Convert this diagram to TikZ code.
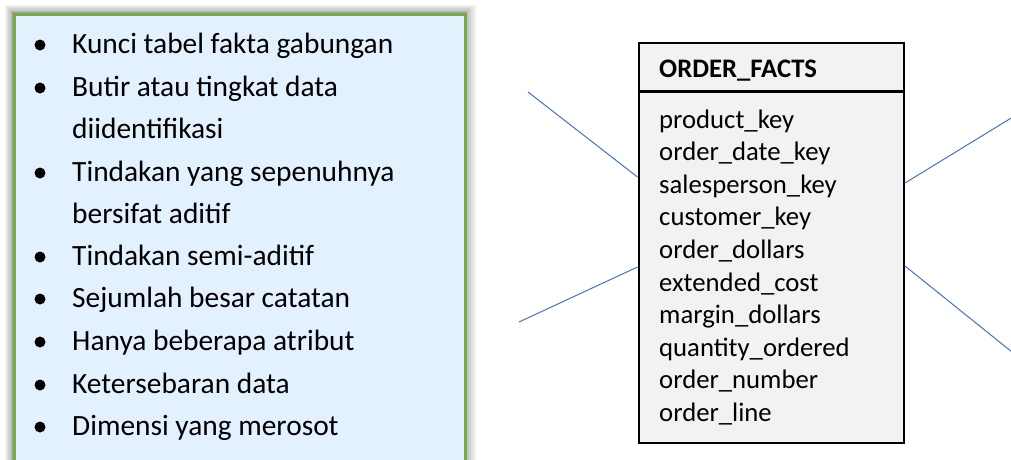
\documentclass[tikz,border=0pt]{standalone}
\usepackage{fontspec}
\setmainfont{Carlito}
\begin{document}
\begin{tikzpicture}[x=1pt,y=-1pt,
  itemtext/.style={anchor=base west,inner sep=0pt,font=\fontsize{29.4}{34}\selectfont},
  rowtext/.style={anchor=base west,inner sep=0pt,font=\fontsize{26.7}{31}\selectfont},
  bul/.style={circle,fill=black,inner sep=0pt,minimum size=11pt},
  link/.style={draw=linkblue,line width=1pt}]
\definecolor{boxfill}{HTML}{E3F1FE}
\definecolor{boxgreen}{HTML}{70AD47}
\definecolor{tablefill}{HTML}{F2F2F2}
\definecolor{linkblue}{HTML}{4472C4}
\useasboundingbox (0,0) rectangle (1011,459);
\clip (0,0) rectangle (1011,459);
% shadow of the left box
\foreach \d/\o in {13/0.035,11/0.04,9/0.05,7/0.06,5/0.07,3/0.08,1.5/0.1}{
  \fill[black,opacity=\o] (12.5-\d*0.6,12.5-\d*0.6) rectangle (464+\d,480);
}
\node[draw=boxgreen,line width=3pt,fill=boxfill,minimum width=451.5pt,minimum height=480pt,anchor=north west,inner sep=0pt] (leftbox) at (12.5,12.5) {};
% bullets
\foreach \i/\y in {1/45,2/88,3/173,4/257,5/299,6/342,7/385,8/427}{
  \node[bul] (b\i) at (40,\y) {};
}
\node[itemtext] (t1) at (72,53) {Kunci tabel fakta gabungan};
\node[itemtext] (t2) at (72,96) {Butir atau tingkat data};
\node[itemtext] (t2b) at (72,138) {diidentifikasi};
\node[itemtext] (t3) at (72,181) {Tindakan yang sepenuhnya};
\node[itemtext] (t3b) at (72,223) {bersifat aditif};
\node[itemtext] (t4) at (72,265) {Tindakan semi-aditif};
\node[itemtext] (t5) at (72,307) {Sejumlah besar catatan};
\node[itemtext] (t6) at (72,350) {Hanya beberapa atribut};
\node[itemtext] (t7) at (72,393) {Ketersebaran data};
\node[itemtext] (t8) at (72,435) {Dimensi yang merosot};
% table
\node[draw=black,line width=2.5pt,fill=tablefill,minimum width=265pt,minimum height=400pt,anchor=north west,inner sep=0pt] (table) at (637.5,41.5) {};
\draw[line width=2.5pt] (table.west |- 0,91.5) -- (table.east |- 0,91.5);
\node[rowtext,font=\fontsize{26.7}{31}\selectfont\bfseries] (hdr) at (659,77.5) {ORDER\_FACTS};
\foreach \i/\t in {0/product\_key,1/order\_date\_key,2/salesperson\_key,3/customer\_key,4/order\_dollars,5/extended\_cost,6/margin\_dollars,7/quantity\_ordered,8/order\_number,9/order\_line}{
  \node[rowtext] (r\i) at (659,128+\i*32.6) {\t};
}
% connectors
\coordinate (l1) at (528,92);
\coordinate (l2) at (519,322);
\coordinate (r1) at (1012,117.5);
\coordinate (r2) at (1012,352);
\draw[link] (l1) -- (table.west |- 0,177);
\draw[link] (l2) -- (table.west |- 0,267);
\draw[link] (table.east |- 0,183) -- (r1);
\draw[link] (table.east |- 0,266) -- (r2);
\end{tikzpicture}
\end{document}
